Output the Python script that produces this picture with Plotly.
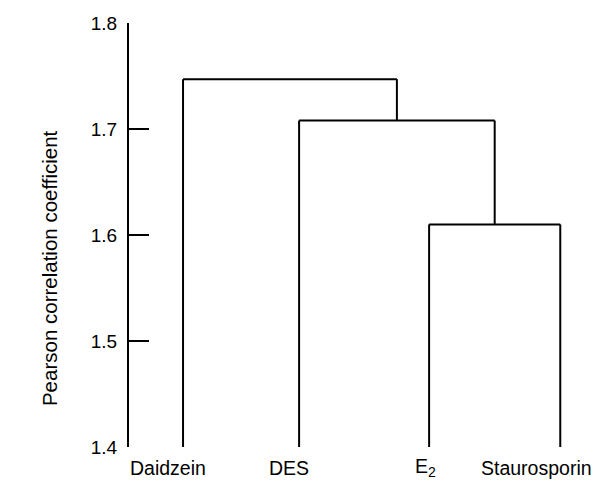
import plotly.graph_objects as go

# Data
leaves = ["Daidzein", "DES", "E<sub><span style='font-size:14px'>2</span></sub>", "Staurosporin"]
leaf_pos = [1.0, 2.0, 3.12, 4.25]          # dendrogram leaf order positions
leaf_height = 1.4
merge_heights = [1.610, 1.708, 1.747]       # E2+Stauro, DES+(..), Daidzein+(..)
y_ticks = [1.4, 1.5, 1.6, 1.7, 1.8]

# style
label_shift = [-15, -10, -4, -24]
label_vshift = [-8, -8, -6, -8]
FONT = "Liberation Sans, Arial, sans-serif"

# build dendrogram segments
xs, ys = [], []
def seg(x0, y0, x1, y1):
    xs.extend([x0, x1, None]); ys.extend([y0, y1, None])

a, b = leaf_pos[2], leaf_pos[3]
h1 = merge_heights[0]
seg(a, leaf_height, a, h1); seg(b, leaf_height, b, h1); seg(a, h1, b, h1)
c1 = (a + b) / 2
d = leaf_pos[1]
h2 = merge_heights[1]
seg(d, leaf_height, d, h2); seg(c1, h1, c1, h2); seg(d, h2, c1, h2)
c2 = (d + c1) / 2
e = leaf_pos[0]
h3 = merge_heights[2]
seg(e, leaf_height, e, h3); seg(c2, h2, c2, h3); seg(e, h3, c2, h3)

fig = go.Figure()
fig.add_trace(go.Scatter(x=xs, y=ys, mode="lines",
                         line=dict(color="black", width=2),
                         hoverinfo="skip", showlegend=False))

annotations = []
for name, pos, sh, vs in zip(leaves, leaf_pos, label_shift, label_vshift):
    annotations.append(dict(x=pos, y=0, xref="x", yref="paper", text=name,
                            showarrow=False, xanchor="center", yanchor="top",
                            xshift=sh, yshift=vs,
                            font=dict(family=FONT, size=19.5, color="black")))
annotations.append(dict(x=0, y=0.422, xref="paper", yref="paper",
                        text="Pearson correlation coefficient", textangle=-90,
                        showarrow=False, xanchor="center", yanchor="middle",
                        xshift=-80,
                        font=dict(family=FONT, size=20.5, color="black")))

fig.update_layout(
    width=596, height=481,
    margin=dict(l=129, r=16, t=23, b=34),
    paper_bgcolor="white", plot_bgcolor="white",
    annotations=annotations,
    xaxis=dict(range=[0.5345, 4.42], visible=False),
    yaxis=dict(range=[1.4, 1.8], tickvals=y_ticks,
               ticktext=[f"{v:.1f}" for v in y_ticks],
               showline=True, linecolor="black", linewidth=2,
               ticks="inside", ticklen=20, tickwidth=2, tickcolor="black",
               showgrid=False, zeroline=False, ticklabelstandoff=6,
               tickfont=dict(family=FONT, size=19, color="black")),
)

fig.write_html("out.html")
